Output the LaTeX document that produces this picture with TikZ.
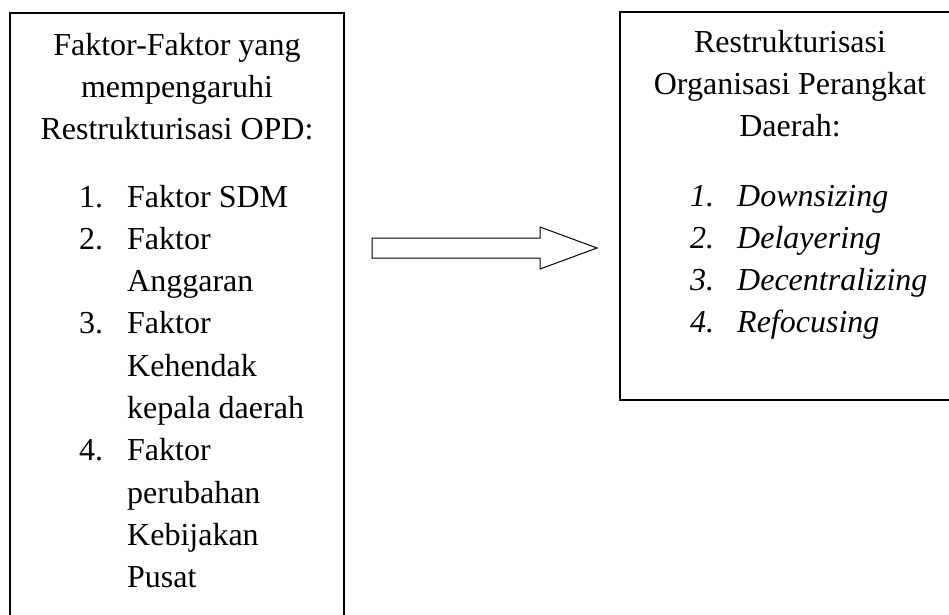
\documentclass[tikz,border=0pt]{standalone}
\usepackage{fontspec}
\setmainfont{Liberation Serif}
\newcommand{\ukuranteks}{\fontsize{32}{42}\selectfont}

\begin{document}
\begin{tikzpicture}[x=1pt,y=-1pt,
  judul/.style={anchor=base,inner sep=0pt,font=\ukuranteks},
  butir/.style={anchor=base west,inner sep=0pt,font=\ukuranteks},
  kotak/.style={draw,line width=1.3pt}]
\clip (0,0) rectangle (949,614);

% kotak kiri dan kanan
\draw [kotak] (10,13) rectangle (344,720);
\draw [kotak] (620,12) rectangle (960,400);

% judul kiri
\node [judul] (kj1) at (177,55) {Faktor-Faktor yang};
\node [judul] (kj2) at (177,97) {mempengaruhi};
\node [judul] (kj3) at (177,139) {Restrukturisasi OPD:};

% daftar kiri
\node [butir] (kn1) at (79,207) {1.};
\node [butir] (kb1) at (127,207) {Faktor SDM};
\node [butir] (kn2) at (79,249.3) {2.};
\node [butir] (kb2) at (127,249.3) {Faktor};
\node [butir] (kb2b) at (127,291.6) {Anggaran};
\node [butir] (kn3) at (79,333.9) {3.};
\node [butir] (kb3) at (127,333.9) {Faktor};
\node [butir] (kb3b) at (127,376.2) {Kehendak};
\node [butir] (kb3c) at (127,418.5) {kepala daerah};
\node [butir] (kn4) at (79,460.8) {4.};
\node [butir] (kb4) at (127,460.8) {Faktor};
\node [butir] (kb4b) at (127,503.1) {perubahan};
\node [butir] (kb4c) at (127,545.4) {Kebijakan};
\node [butir] (kb4d) at (127,587.7) {Pusat};

% panah blok
\draw [line width=1pt, line join=miter]
  (372,238) -- (540,238) -- (540,227) -- (597,248)
  -- (540,269) -- (540,258) -- (372,258) -- cycle;

% judul kanan
\node [judul] (nj1) at (790,52) {Restrukturisasi};
\node [judul] (nj2) at (790,94.3) {Organisasi Perangkat};
\node [judul] (nj3) at (790,136.6) {Daerah:};

% daftar kanan
\node [butir] (nn1) at (690,206) {\itshape 1.};
\node [butir] (nb1) at (737,206) {\itshape Downsizing};
\node [butir] (nn2) at (690,248.3) {\itshape 2.};
\node [butir] (nb2) at (737,248.3) {\itshape Delayering};
\node [butir] (nn3) at (690,290.6) {\itshape 3.};
\node [butir] (nb3) at (737,290.6) {\itshape Decentralizing};
\node [butir] (nn4) at (690,332.9) {\itshape 4.};
\node [butir] (nb4) at (737,332.9) {\itshape Refocusing};

\end{tikzpicture}
\end{document}
